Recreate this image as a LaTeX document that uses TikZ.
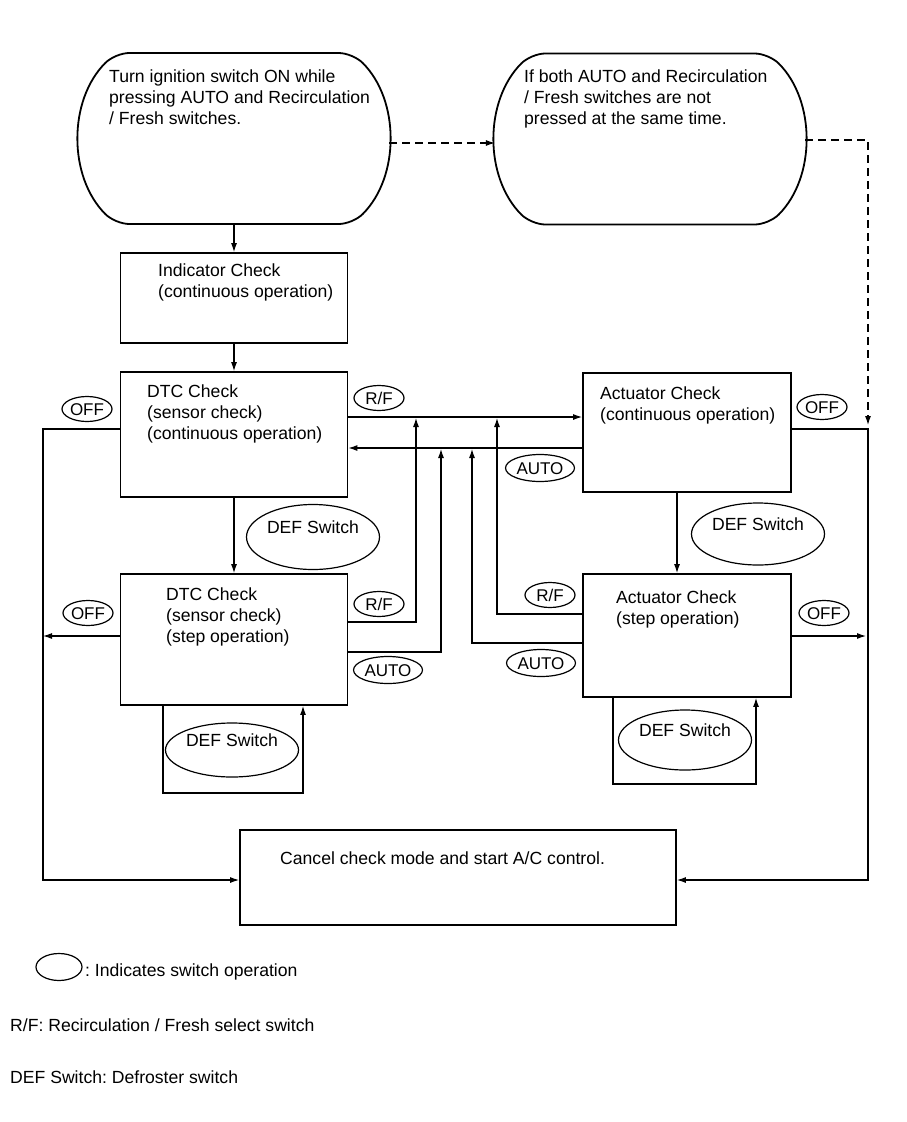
\documentclass[tikz,border=0pt]{standalone}
\usepackage{fontspec}
\setmainfont{Liberation Sans}
\usetikzlibrary{arrows.meta, shapes.geometric, shapes.misc}
\frenchspacing

\begin{document}
\begin{tikzpicture}[x=1pt, y=-1pt,
    font=\fontsize{17.6}{21}\selectfont,
    >={Latex[length=9pt,width=6pt]},
    term/.style={rounded rectangle, rounded rectangle arc length=90, rounded corners=14pt, draw, line width=1.8pt, minimum width=315pt, minimum height=171pt},
    chkbox/.style={rectangle, draw, line width=1.8pt},
    txt/.style={anchor=north west, inner sep=0pt, align=left},
    sw/.style={ellipse, draw, line width=1.2pt, inner sep=0pt, minimum width=50pt, minimum height=25pt, font=\fontsize{17}{20}\selectfont, text height=12.2pt, text depth=0pt},
    defsw/.style={ellipse, draw, line width=1.2pt, inner sep=0pt, minimum width=133pt, text height=12.6pt, text depth=20pt},
    link/.style={line width=1.1pt},
    skiplink/.style={link, dash pattern=on 8pt off 5pt}]
    \useasboundingbox (0,0) rectangle (907,1122);

    % Start nodes
    \node[term] (start) at (234,138.5) {};
    \node[term] (skip) at (650,139) {};
    \node[txt] (starttxt) at (109,69.5) {Turn ignition switch ON while\\pressing AUTO and Recirculation\\/ Fresh switches.};
    \node[txt] (skiptxt) at (524,69.5) {If both AUTO and Recirculation\\/ Fresh switches are not\\pressed at the same time.};

    % Check boxes
    \node[chkbox, minimum width=227pt, minimum height=90pt] (ind) at (234,298) {};
    \node[chkbox, minimum width=227pt, minimum height=125pt] (dtcA) at (234,434.5) {};
    \node[chkbox, minimum width=227pt, minimum height=131pt] (dtcB) at (234,639.5) {};
    \node[chkbox, minimum width=208pt, minimum height=119pt] (actA) at (687,432.5) {};
    \node[chkbox, minimum width=208pt, minimum height=123pt] (actB) at (687,635.5) {};
    \node[chkbox, minimum width=436pt, minimum height=95pt] (cancel) at (458,877.5) {};

    \node[txt] (indtxt) at (158,264) {Indicator Check\\(continuous operation)};
    \node[txt] (dtcAtxt) at (147,385) {DTC Check\\(sensor check)\\(continuous operation)};
    \node[txt] (dtcBtxt) at (166,588) {DTC Check\\(sensor check)\\(step operation)};
    \node[txt] (actAtxt) at (600,387) {Actuator Check\\(continuous operation)};
    \node[txt] (actBtxt) at (616,591) {Actuator Check\\(step operation)};
    \node[txt] (canceltxt) at (280,851.5) {Cancel check mode and start A/C control.};

    % Switch operations
    \node[sw] (offA) at (87,409) {OFF};
    \node[sw] (offB) at (88,613) {OFF};
    \node[sw] (offC) at (822,407) {OFF};
    \node[sw] (offD) at (824,613) {OFF};
    \node[sw] (rfA) at (379,398) {R/F};
    \node[sw] (rfB) at (379,604) {R/F};
    \node[sw] (rfC) at (550,595) {R/F};
    \node[sw, minimum width=69pt, minimum height=27pt] (autoA) at (540,468) {AUTO};
    \node[sw, minimum width=69pt, minimum height=27pt] (autoB) at (388,670) {AUTO};
    \node[sw, minimum width=69pt, minimum height=27pt] (autoC) at (541,663) {AUTO};

    \node[defsw, minimum height=65pt] (defA) at (313,537) {DEF Switch};
    \node[defsw, minimum height=54pt] (defB) at (232,750) {DEF Switch};
    \node[defsw, minimum height=62pt] (defC) at (758,534) {DEF Switch};
    \node[defsw, minimum height=60pt] (defD) at (685,740) {DEF Switch};

    % Legend
    \node[sw, minimum width=46pt, minimum height=27pt] (key) at (59,967) {};
    \node[anchor=base west, inner sep=0pt] (keytxt) at (85,976) {: Indicates switch operation};
    \node[anchor=base west, inner sep=0pt] (rftxt) at (10,1031) {R/F: Recirculation / Fresh select switch};
    \node[anchor=base west, inner sep=0pt] (deftxt) at (10,1083) {DEF Switch: Defroster switch};

    % Edges
    \draw[link, ->] (start.south) -- (ind.north);
    \draw[link, ->] (ind.south) -- (dtcA.north);
    \draw[link, ->] (dtcA.south) -- (dtcB.north);
    \draw[link, ->] (actA.south -| 677,0) -- (actB.north -| 677,0);
    \draw[skiplink, ->] (start.east |- 0,143) -- (skip.west |- 0,143);
    \draw[skiplink, ->] (skip.east |- 0,140) -| (868,425);

    \draw[link, ->] (dtcA.east |- 0,417) -- (actA.west |- 0,417);
    \draw[link, ->] (actA.west |- 0,448) -- (dtcA.east |- 0,448);
    \draw[link, ->] (dtcB.east |- 0,622) -| (416,418);
    \draw[link, ->] (dtcB.east |- 0,652) -| (441,449);
    \draw[link, ->] (actB.west |- 0,643) -| (472,449);
    \draw[link, ->] (actB.west |- 0,614) -| (497,418);

    \draw[link, ->] (dtcA.west |- 0,429) -| (43,880) -- (cancel.west |- 0,880);
    \draw[link, ->] (dtcB.west |- 0,636) -- (43,636);
    \draw[link, ->] (actA.east |- 0,429) -| (868,880) -- (cancel.east |- 0,880);
    \draw[link, ->] (actB.east |- 0,636) -- (866,636);

    \draw[link, ->] (dtcB.south -| 163,0) |- (303,793) -- (dtcB.south -| 303,0);
    \draw[link, ->] (actB.south -| 613,0) |- (756,784) -- (actB.south -| 756,0);
\end{tikzpicture}
\end{document}
